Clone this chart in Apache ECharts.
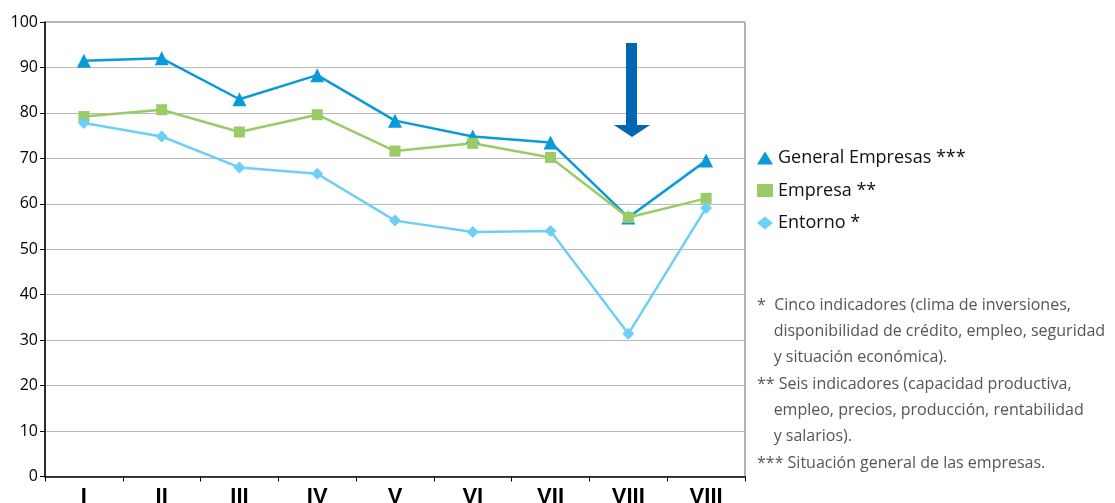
<!DOCTYPE html>
<html>
<head>
<meta charset="utf-8">
<script src="https://cdn.jsdelivr.net/npm/echarts@6/dist/echarts.min.js"></script>
<style>
  html, body { margin: 0; padding: 0; background: #fff; }
  #chart { width: 1115px; height: 503px; }
</style>
</head>
<body>
<div id="chart"></div>
<script>
// categories on the x axis
const categories = ['I', 'II', 'III', 'IV', 'V', 'VI', 'VII', 'VIII', 'VIII']
// series values
const generalEmpresas = [91.5, 92, 83, 88.3, 78.3, 74.8, 73.5, 57, 69.5]
const empresa = [79.2, 80.7, 75.8, 79.6, 71.6, 73.3, 70.2, 57, 61.2]
const entorno = [77.8, 74.8, 68, 66.6, 56.3, 53.8, 54, 31.4, 59.1]
const yTicks = { min: 0, max: 100, interval: 10 }

const footnotes = [
  '*  Cinco indicadores (clima de inversiones,',
  '    disponibilidad de crédito, empleo, seguridad',
  '    y situación económica).',
  '** Seis indicadores (capacidad productiva,',
  '    empleo, precios, producción, rentabilidad',
  '    y salarios).',
  '*** Situación general de las empresas.'
]

const chart = echarts.init(document.getElementById('chart'))
const font = 'Open Sans, Noto Sans, sans-serif'

const lineSeries = (name, data, color, symbol, size) => ({
  name: name,
  type: 'line',
  data: data,
  symbol: symbol,
  symbolSize: size,
  lineStyle: { color: color, width: 2.5 },
  itemStyle: { color: color },
  emphasis: { disabled: true }
})

const option = {
  animation: false,
  textStyle: { fontFamily: font },
  grid: {
    left: 45, right: 370, top: 22, bottom: 26.5,
    outerBoundsMode: 'none',
    show: true, borderColor: '#666', borderWidth: 1
  },
  legend: {
    orient: 'vertical',
    left: 752,
    top: 144,
    itemGap: 14.5,
    itemWidth: 16,
    itemHeight: 13,
    textStyle: { fontSize: 18, color: '#111', fontFamily: font },
    data: [
      { name: 'General Empresas ***', icon: 'triangle' },
      { name: 'Empresa **', icon: 'rect' },
      { name: 'Entorno *', icon: 'diamond' }
    ]
  },
  xAxis: {
    type: 'category',
    data: categories,
    boundaryGap: true,
    axisLine: { lineStyle: { color: '#000', width: 1.5 } },
    axisTick: { show: true, length: 5, lineStyle: { color: '#000' } },
    axisLabel: {
      color: '#000', fontSize: 22, fontWeight: 'bold',
      fontFamily: 'Liberation Sans Narrow, Liberation Sans, sans-serif', margin: 9
    },
    splitLine: { show: false }
  },
  yAxis: {
    type: 'value',
    min: yTicks.min,
    max: yTicks.max,
    interval: yTicks.interval,
    axisLine: { show: true, lineStyle: { color: '#000', width: 1.5 } },
    axisTick: { show: true, length: 5, lineStyle: { color: '#000' } },
    axisLabel: { color: '#000', fontSize: 16, margin: 7 },
    splitLine: { lineStyle: { color: '#bbb', width: 1 } }
  },
  series: [
    lineSeries('General Empresas ***', generalEmpresas, '#0a9ad9', 'triangle', 14),
    lineSeries('Empresa **', empresa, '#99cc66', 'rect', 11),
    lineSeries('Entorno *', entorno, '#6dcff6', 'diamond', 12)
  ],
  graphic: [
    {
      type: 'polygon',
      shape: {
        points: [[626, 43], [637, 43], [637, 125], [650, 125], [632, 137], [614, 125], [626, 125]]
      },
      style: { fill: '#0066b3' },
      z: 10
    },
    {
      type: 'text',
      left: 757,
      top: 292,
      style: {
        text: footnotes.join('\n'),
        fill: '#555',
        font: '16px ' + font,
        lineHeight: 26.3
      }
    }
  ]
}

chart.setOption(option)
</script>
</body>
</html>
